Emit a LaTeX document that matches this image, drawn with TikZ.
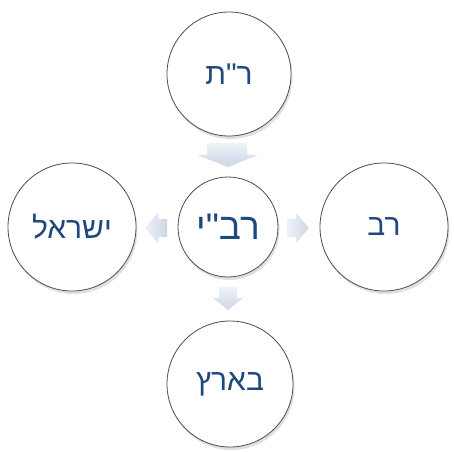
\documentclass[tikz,border=0pt]{standalone}
\usepackage{fontspec}
\usetikzlibrary{shadows}
\TeXXeTstate=1
\newfontfamily\hebfont[Script=Hebrew]{Liberation Sans}
\definecolor{txtblue}{HTML}{1F497D}
\definecolor{arrA}{HTML}{EEF1F7}
\definecolor{arrB}{HTML}{CDD6E6}
\tikzset{
  bubble/.style={circle, draw=black!70, line width=0.8pt, fill=white, minimum size=#1,
    inner sep=0pt, text=txtblue, font=\hebfont\fontsize{30}{30}\selectfont,
    drop shadow={shadow xshift=1.5pt, shadow yshift=-3pt, opacity=0.2, fill=black!60}},
  arrowshape/.style={top color=arrA, bottom color=arrB, draw=none},
  arrowshapeh/.style={left color=arrA, right color=arrB, draw=none}
}
\begin{document}
\begin{tikzpicture}[x=1pt,y=1pt]
\useasboundingbox (0,0) rectangle (454,451);
% down arrow top
\path[arrowshape] (207,308) -- (247,308) -- (247,296) -- (258,296) -- (228,284) -- (197,296) -- (207,296) -- cycle;
% left arrow
\path[arrowshapeh] (167,232) -- (158,232) -- (158,238) -- (145,223) -- (158,208) -- (158,214) -- (167,214) -- cycle;
% right arrow
\path[arrowshapeh] (287,232) -- (296,232) -- (296,238) -- (309,223) -- (296,208) -- (296,214) -- (287,214) -- cycle;
% down arrow bottom
\path[arrowshape] (219,164) -- (237,164) -- (237,153) -- (243,153) -- (228,141) -- (213,153) -- (219,153) -- cycle;
% circles
\node[bubble=124pt] (top) at (229,377) {\beginR ר"ת\endR};
\node[bubble=100pt, font=\hebfont\fontsize{37}{37}\selectfont] (mid) at (228,224) {\beginR רב"י\endR};
\node[bubble=128pt] (left) at (72,224) {\beginR ישראל\endR};
\node[bubble=128pt] (right) at (384,224) {\beginR רב\endR};
\node[bubble=126pt] (bot) at (230,67) {\beginR בארץ\endR};
\end{tikzpicture}
\end{document}
